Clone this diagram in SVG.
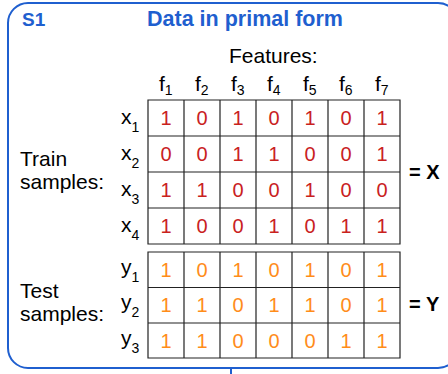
<svg xmlns="http://www.w3.org/2000/svg" width="448" height="374" viewBox="0 0 448 374">
<style>
.t{font-family:"Liberation Sans",Arial,sans-serif;fill:#000}
.blue{fill:#1f5fcf;font-weight:bold}
.sub{font-size:14px}
.r{fill:#c9211e;font-family:"Liberation Sans",Arial,sans-serif;font-size:20px;text-anchor:middle}
.o{fill:#ff8c1a;font-family:"Liberation Sans",Arial,sans-serif;font-size:20px;text-anchor:middle}
.grid{fill:none;stroke:#222;stroke-width:1.2}
</style>
<g id="frame">
<rect x="8" y="3" width="450" height="365" rx="20" fill="#fff" stroke="#1f5fcf" stroke-width="2"/>
</g>
<g id="connectors">
<line x1="231" y1="368" x2="231" y2="374" stroke="#1f5fcf" stroke-width="2"/>
</g>
<g id="title">
<text class="t blue" x="22" y="26" font-size="19">S1</text>
<text class="t blue" x="147" y="26" font-size="21.5">Data in primal form</text>
</g>
<g id="features">
<text class="t" x="229" y="63" font-size="21">Features:</text>
<text class="t" x="159" y="91" font-size="21">f<tspan class="sub" dy="4">1</tspan></text>
<text class="t" x="195" y="91" font-size="21">f<tspan class="sub" dy="4">2</tspan></text>
<text class="t" x="231" y="91" font-size="21">f<tspan class="sub" dy="4">3</tspan></text>
<text class="t" x="267" y="91" font-size="21">f<tspan class="sub" dy="4">4</tspan></text>
<text class="t" x="303" y="91" font-size="21">f<tspan class="sub" dy="4">5</tspan></text>
<text class="t" x="339" y="91" font-size="21">f<tspan class="sub" dy="4">6</tspan></text>
<text class="t" x="375" y="91" font-size="21">f<tspan class="sub" dy="4">7</tspan></text>
</g>
<g id="train">
<text class="t" x="20" y="166" font-size="21">Train</text>
<text class="t" x="20" y="189" font-size="21">samples:</text>
<text class="t" x="121" y="124" font-size="21">x<tspan class="sub" dy="8">1</tspan></text>
<text class="t" x="121" y="160" font-size="21">x<tspan class="sub" dy="8">2</tspan></text>
<text class="t" x="121" y="196" font-size="21">x<tspan class="sub" dy="8">3</tspan></text>
<text class="t" x="121" y="232" font-size="21">x<tspan class="sub" dy="8">4</tspan></text>
<path class="grid" d="M148 100H400V244H148Z M184 100V244 M220 100V244 M256 100V244 M292 100V244 M328 100V244 M364 100V244 M148 136H400 M148 172H400 M148 208H400"/>
<g>
<text class="r" x="166" y="125">1</text><text class="r" x="202" y="125">0</text><text class="r" x="238" y="125">1</text><text class="r" x="274" y="125">0</text><text class="r" x="310" y="125">1</text><text class="r" x="346" y="125">0</text><text class="r" x="382" y="125">1</text>
<text class="r" x="166" y="161">0</text><text class="r" x="202" y="161">0</text><text class="r" x="238" y="161">1</text><text class="r" x="274" y="161">1</text><text class="r" x="310" y="161">0</text><text class="r" x="346" y="161">0</text><text class="r" x="382" y="161">1</text>
<text class="r" x="166" y="197">1</text><text class="r" x="202" y="197">1</text><text class="r" x="238" y="197">0</text><text class="r" x="274" y="197">0</text><text class="r" x="310" y="197">1</text><text class="r" x="346" y="197">0</text><text class="r" x="382" y="197">0</text>
<text class="r" x="166" y="233">1</text><text class="r" x="202" y="233">0</text><text class="r" x="238" y="233">0</text><text class="r" x="274" y="233">1</text><text class="r" x="310" y="233">0</text><text class="r" x="346" y="233">1</text><text class="r" x="382" y="233">1</text>
</g>
<text class="t" x="409" y="179" font-size="20" font-weight="bold">= X</text>
</g>
<g id="test">
<text class="t" x="20" y="298" font-size="21">Test</text>
<text class="t" x="20" y="321" font-size="21">samples:</text>
<text class="t" x="121" y="274" font-size="21">y<tspan class="sub" dy="8">1</tspan></text>
<text class="t" x="121" y="309" font-size="21">y<tspan class="sub" dy="8">2</tspan></text>
<text class="t" x="121" y="345" font-size="21">y<tspan class="sub" dy="8">3</tspan></text>
<path class="grid" d="M148 252H400V358H148Z M184 252V358 M220 252V358 M256 252V358 M292 252V358 M328 252V358 M364 252V358 M148 287.5H400 M148 323H400"/>
<g>
<text class="o" x="166" y="277">1</text><text class="o" x="202" y="277">0</text><text class="o" x="238" y="277">1</text><text class="o" x="274" y="277">0</text><text class="o" x="310" y="277">1</text><text class="o" x="346" y="277">0</text><text class="o" x="382" y="277">1</text>
<text class="o" x="166" y="312">1</text><text class="o" x="202" y="312">1</text><text class="o" x="238" y="312">0</text><text class="o" x="274" y="312">1</text><text class="o" x="310" y="312">1</text><text class="o" x="346" y="312">0</text><text class="o" x="382" y="312">1</text>
<text class="o" x="166" y="348">1</text><text class="o" x="202" y="348">1</text><text class="o" x="238" y="348">0</text><text class="o" x="274" y="348">0</text><text class="o" x="310" y="348">0</text><text class="o" x="346" y="348">1</text><text class="o" x="382" y="348">1</text>
</g>
<text class="t" x="409" y="311" font-size="20" font-weight="bold">= Y</text>
</g>
</svg>
